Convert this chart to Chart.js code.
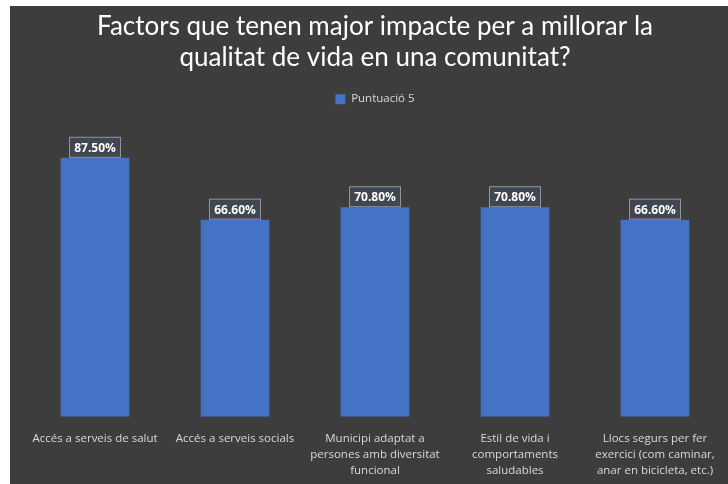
<!DOCTYPE html>
<html>
<head>
<meta charset="utf-8">
<script src="https://cdn.jsdelivr.net/npm/chart.js@4/dist/chart.umd.min.js"></script>
<style>
  html, body { margin: 0; padding: 0; background: #fff; }
  #wrap { position: absolute; left: 10px; top: 6px; width: 718px; height: 478px; background: #3d3d3d; overflow: hidden; }
</style>
</head>
<body>
<div id="wrap"><canvas id="factorsChart" width="718" height="479"></canvas></div>
<script>
const categories = [
    'Accés a serveis de salut',
    'Accés a serveis socials',
    ['Municipi adaptat a', 'persones amb diversitat', 'funcional'],
    ['Estil de vida i', 'comportaments', 'saludables'],
    ['Llocs segurs per fer', 'exercici (com caminar,', 'anar en bicicleta, etc.)']
];
const scores = [87.5, 66.6, 70.8, 70.8, 66.6];
const seriesName = 'Puntuació 5';

// boxed value labels above each bar
const valueBoxes = {
    id: 'valueBoxes',
    afterDatasetsDraw(chart) {
        const ctx = chart.ctx;
        const meta = chart.getDatasetMeta(0);
        ctx.save();
        ctx.font = 'bold 12px "Open Sans", sans-serif';
        ctx.textAlign = 'center';
        ctx.textBaseline = 'middle';
        meta.data.forEach((bar, i) => {
            const txt = scores[i].toFixed(2) + '%';
            const w = 52, h = 21;
            const x = bar.x - w / 2, y = bar.y - h;
            ctx.fillStyle = 'rgba(70, 80, 100, 0.55)';
            ctx.fillRect(x, y, w, h);
            ctx.strokeStyle = 'rgba(200, 200, 200, 0.6)';
            ctx.lineWidth = 1;
            ctx.strokeRect(x + 0.5, y + 0.5, w - 1, h - 1);
            ctx.fillStyle = '#ffffff';
            ctx.fillText(txt, bar.x, y + h / 2 + 1);
        });
        ctx.restore();
    }
};

new Chart(document.getElementById('factorsChart'), {
    type: 'bar',
    data: {
        labels: categories,
        datasets: [{
            label: seriesName,
            data: scores,
            backgroundColor: '#4472c4',
            borderWidth: 0,
            categoryPercentage: 1,
            barPercentage: 0.49
        }]
    },
    options: {
        responsive: false,
        animation: false,
        layout: { padding: { left: 15, right: 3, top: 0, bottom: 0 } },
        plugins: {
            title: {
                display: true,
                text: ['Factors que tenen major impacte per a millorar la', 'qualitat de vida en una comunitat?'],
                color: '#ffffff',
                font: { family: 'Lato, "Open Sans", sans-serif', size: 26, weight: 'normal', lineHeight: 1.2 },
                padding: { top: 5, bottom: 8 }
            },
            legend: {
                display: true,
                labels: {
                    color: '#d9d9d9',
                    boxWidth: 10,
                    boxHeight: 10,
                    padding: 12,
                    font: { family: '"Open Sans", sans-serif', size: 11.5 }
                }
            },
            tooltip: { enabled: false }
        },
        scales: {
            x: {
                grid: { display: false },
                border: { display: false },
                ticks: {
                    color: '#d9d9d9',
                    maxRotation: 0,
                    autoSkip: false,
                    padding: 6,
                    font: { family: '"Open Sans", sans-serif', size: 11.5, lineHeight: 1.4 }
                }
            },
            y: {
                display: false,
                min: 0,
                max: 102
            }
        }
    },
    plugins: [valueBoxes]
});
</script>
</body>
</html>
